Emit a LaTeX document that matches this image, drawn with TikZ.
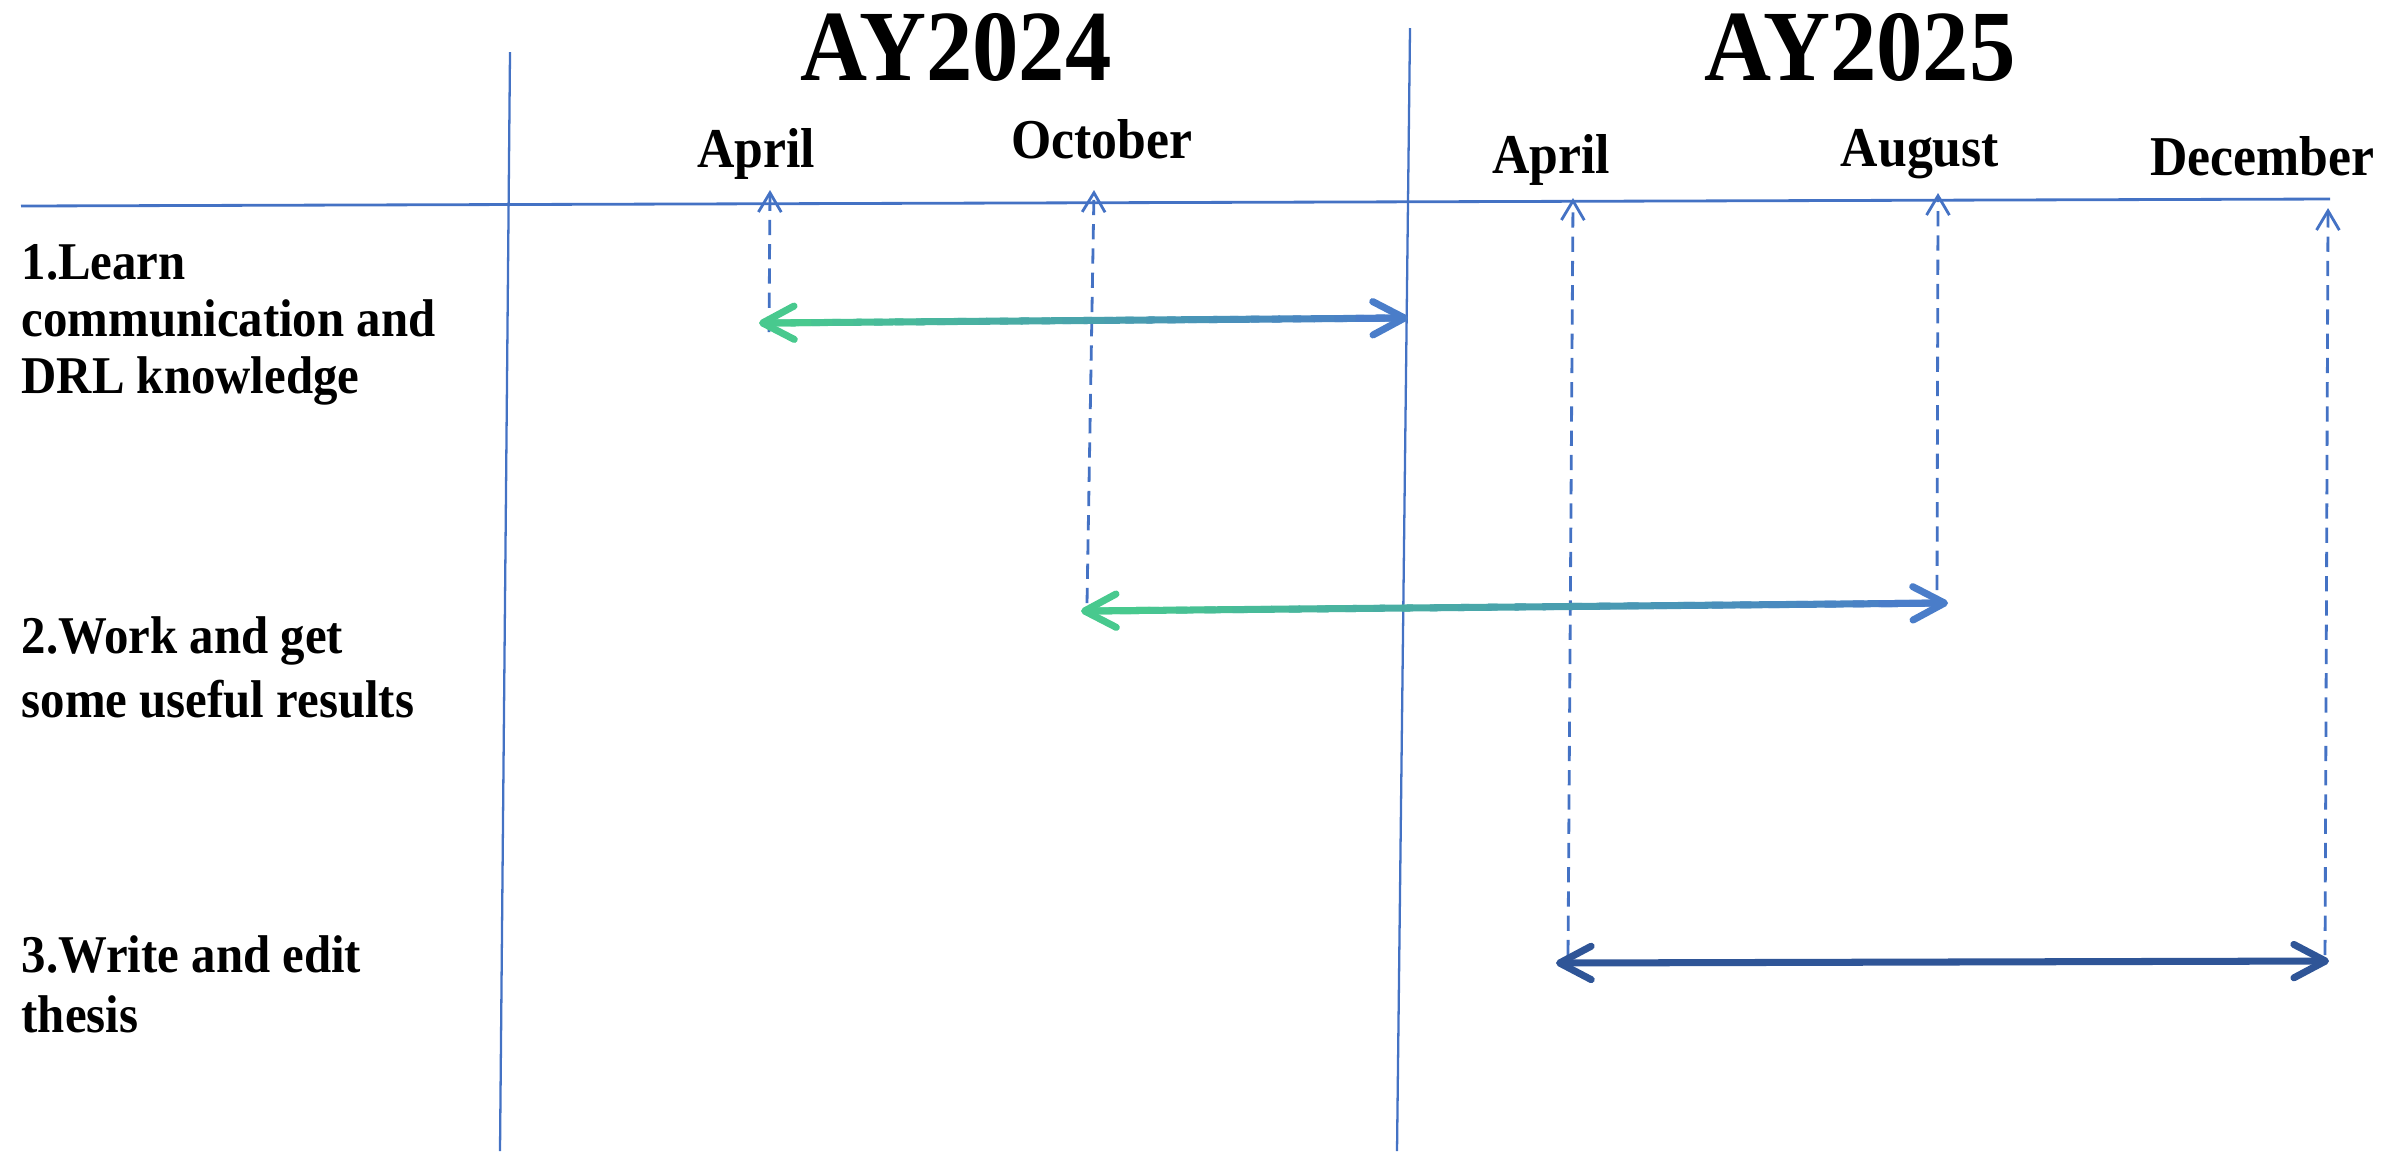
\documentclass[tikz,border=0pt]{standalone}
\usepackage{fontspec}
\setmainfont{Liberation Serif}[FakeStretch=0.92]
\usetikzlibrary{arrows.meta,calc}
\definecolor{lineblue}{HTML}{4472C4}
\definecolor{spangreen}{HTML}{48C98E}
\definecolor{spanblue}{HTML}{4A7DC9}
\definecolor{darkblue}{HTML}{2F5597}

% shaded bar between two named points
\newcommand{\gradspan}[2]{%
  \coordinate (#1in) at ($(#1)!3pt!(#2)$);
  \coordinate (#2in) at ($(#2)!3pt!(#1)$);
  \foreach \i in {0,...,29}{%
    \pgfmathtruncatemacro{\pct}{100-100*\i/29}%
    \pgfmathsetmacro{\nxt}{min((\i+1.4)/30,1)}%
    \draw[shaft, draw=spangreen!\pct!spanblue] ($(#1in)!\i/30!(#2in)$) -- ($(#1in)!\nxt!(#2in)$);
  }%
  \draw[shaft, spangreen, {Straight Barb[length=9pt,width=9.5pt,round]}-] (#1) -- ($(#1)!0.08!(#2)$);
  \draw[shaft, spanblue, -{Straight Barb[length=9pt,width=9.5pt,round]}] ($(#2)!0.08!(#1)$) -- (#2);
}

\begin{document}
\begin{tikzpicture}[
    every node/.style={inner sep=0pt, font=\bfseries\fontsize{15.1}{16.2}\selectfont},
    year/.style={anchor=base, font=\bfseries\fontsize{28.7}{30}\selectfont},
    month/.style={anchor=base, font=\bfseries\fontsize{16}{18}\selectfont},
    task/.style={anchor=base west, align=left},
    divider/.style={lineblue, line width=0.65pt},
    timeaxis/.style={lineblue, line width=0.8pt},
    guide/.style={lineblue, line width=0.8pt, dash pattern=on 4.3pt off 2.6pt,
        -{Straight Barb[length=5.5pt,width=6.5pt]}},
    shaft/.style={line width=2pt, line cap=butt},
    timespan/.style={line width=2pt,
        {Straight Barb[length=9pt,width=9.5pt,round]}-{Straight Barb[length=9pt,width=9.5pt,round]}}
]
    \useasboundingbox (0,0) rectangle (23.97,-11.51);

    % years
    \node[year] (ay24) at (9.56,-0.80) {AY2024};
    \node[year] (ay25) at (18.60,-0.80) {AY2025};

    % months
    \node[month] (apr1) at (7.56,-1.67) {April};
    \node[month] (oct) at (11.02,-1.58) {October};
    \node[month] (apr2) at (15.51,-1.73) {April};
    \node[month] (aug) at (19.20,-1.66) {August};
    \node[month] (dec) at (22.62,-1.75) {December};

    % tasks (placed by last line)
    \node[task] (t1) at (0.21,-3.93) {1.Learn\\communication and\\DRL knowledge};
    \node[task] (t2) at (0.21,-7.17) {2.Work and get\\[2pt]some useful results};
    \node[task] (t3) at (0.21,-10.32) {3.Write and edit\\[0.8pt]thesis};

    % grid lines
    \coordinate (d1t) at (5.10,-0.52);
    \coordinate (d1b) at (5.00,-11.51);
    \coordinate (d2t) at (14.10,-0.28);
    \coordinate (d2b) at (13.97,-11.51);
    \coordinate (axl) at (0.21,-2.06);
    \coordinate (axr) at (23.30,-1.99);

    \draw[divider] (d1t)--(d1b);
    \draw[divider] (d2t)--(d2b);
    \draw[timeaxis] (axl)--(axr);

    % month guides
    \coordinate (g1t) at (7.70,-1.90);
    \coordinate (g1b) at (7.69,-3.32);
    \coordinate (g2t) at (10.94,-1.90);
    \coordinate (g2b) at (10.87,-6.03);
    \coordinate (g3t) at (15.73,-1.98);
    \coordinate (g3b) at (15.68,-9.55);
    \coordinate (g4t) at (19.38,-1.93);
    \coordinate (g4b) at (19.37,-5.90);
    \coordinate (g5t) at (23.28,-2.08);
    \coordinate (g5b) at (23.25,-9.55);

    \draw[guide] (g1b)--(g1t);
    \draw[guide] (g2b)--(g2t);
    \draw[guide] (g3b)--(g3t);
    \draw[guide] (g4b)--(g4t);
    \draw[guide] (g5b)--(g5t);

    % task spans
    \coordinate (s1l) at (7.59,-3.23);
    \coordinate (s1r) at (14.08,-3.18);
    \coordinate (s2l) at (10.81,-6.11);
    \coordinate (s2r) at (19.48,-6.03);
    \coordinate (s3l) at (15.56,-9.63);
    \coordinate (s3r) at (23.29,-9.61);

    \gradspan{s1l}{s1r}
    \gradspan{s2l}{s2r}
    \draw[timespan, darkblue] (s3l)--(s3r);
\end{tikzpicture}
\end{document}
